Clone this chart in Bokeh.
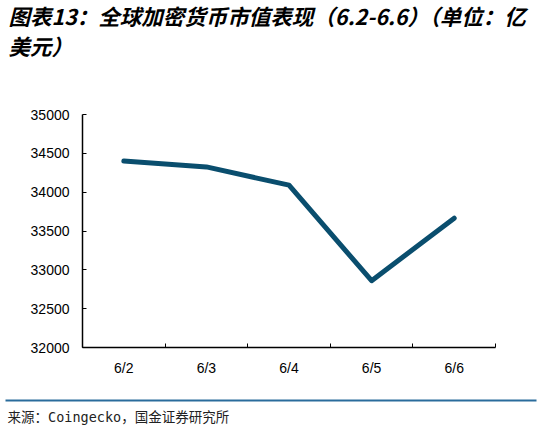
from bokeh.plotting import figure
from bokeh.models import FixedTicker, Range1d, ColumnDataSource
from bokeh.layouts import column
from bokeh.core.properties import value
from bokeh.embed import file_html
from bokeh.resources import INLINE
import numpy as np

dates = ["6/2", "6/3", "6/4", "6/5", "6/6"]
market_cap = [34400, 34325, 34090, 32860, 33665]
y_ticks = [32000, 32500, 33000, 33500, 34000, 34500, 35000]
title_lines = ["图表13：全球加密货币市值表现（6.2-6.6）（单位：亿", "美元）"]
source_text = "来源：Coingecko，国金证券研究所"

W = 540


def blank_fig(h):
    f = figure(width=W, height=h, output_backend="svg", toolbar_location=None,
               x_range=Range1d(0, W), y_range=Range1d(h, 0),
               x_axis_type=None, y_axis_type=None, min_border=0, frame_align=False)
    f.outline_line_color = None
    f.grid.grid_line_color = None
    return f


# ---- title ----
t = blank_fig(60)
t.text(x=[8, 8], y=[15, 45], text=title_lines, text_font=value("Noto Sans CJK SC"),
       text_font_size="21.5px", text_font_style="bold italic", text_baseline="middle",
       text_align="left", text_color="black")

# ---- main chart ----
xpos = np.arange(len(dates)) + 0.5
src = ColumnDataSource(dict(x=xpos, y=market_cap))

p = figure(width=W, height=325, output_backend="svg", toolbar_location=None,
           x_range=Range1d(0, len(dates)), y_range=Range1d(y_ticks[0], y_ticks[-1]),
           min_border_left=82, min_border_right=45, min_border_top=54, min_border_bottom=38,
           frame_align=False)
p.outline_line_color = None
p.grid.grid_line_color = None

p.line("x", "y", source=src, line_width=5, line_color="#0A4E6E", line_join="round", line_cap="round")

p.xaxis.ticker = FixedTicker(ticks=list(xpos), minor_ticks=list(range(0, len(dates) + 1)))
p.xaxis.major_label_overrides = {float(v): d for v, d in zip(xpos, dates)}
p.xaxis.major_tick_in = 0
p.xaxis.major_tick_out = 0
p.xaxis.minor_tick_in = 4
p.xaxis.minor_tick_out = 0
p.xaxis.minor_tick_line_color = "black"
p.xaxis.major_label_standoff = 12

p.yaxis.ticker = FixedTicker(ticks=y_ticks, minor_ticks=[])
p.yaxis.major_tick_in = 4
p.yaxis.major_tick_out = 0
p.yaxis.major_label_standoff = 13
p.yaxis.formatter.use_scientific = False

for ax in (p.xaxis, p.yaxis):
    ax.axis_line_color = "black"
    ax.axis_line_width = 1.5
    ax.major_tick_line_color = "black"
    ax.major_label_text_font = "Liberation Sans"
    ax.major_label_text_font_size = "14px"
    ax.major_label_text_color = "black"

# ---- footer ----
f = blank_fig(45)
f.segment(x0=[5], y0=[15], x1=[536], y1=[15], line_color="#2A6C9C", line_width=2)
f.text(x=[7], y=[31], text=[source_text], text_font=value("DejaVu Sans Mono, Noto Sans CJK SC"),
       text_font_size="13.5px", text_baseline="middle", text_align="left", text_color="#222222")

layout = column(t, p, f, spacing=0)
open("out.html", "w").write(file_html(layout, INLINE))
